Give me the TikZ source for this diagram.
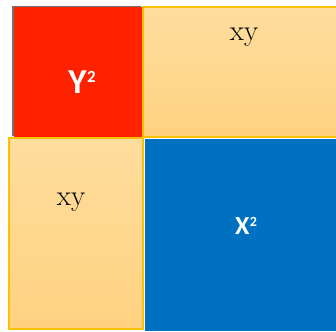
\documentclass[tikz,border=0pt]{standalone}
\usepackage{fontspec}
\newfontfamily\calib{Carlito}
\definecolor{sqred}{RGB}{255,34,0}
\definecolor{sqblue}{RGB}{0,112,192}
\definecolor{ortop}{RGB}{255,221,158}
\definecolor{orbot}{RGB}{255,210,128}
\definecolor{orline}{RGB}{255,192,0}
\newcommand{\sqsup}[1]{\raisebox{0.3em}{\fontsize{#1}{#1}\selectfont\bfseries 2}}
\begin{document}
\begin{tikzpicture}[x=1pt,y=-1pt,
  orbox/.style={draw=orline,line width=1.2pt,top color=ortop,bottom color=orbot},
  sqlabel/.style={text=white,font=\calib\bfseries},
  xylabel/.style={font=\fontsize{29}{29}\selectfont}]
\useasboundingbox (0,0) rectangle (336,331);
\fill[white] (0,0) rectangle (336,331);
% shadow of red square
\fill[black!55] (12,6) rectangle (141,136);
\fill[sqred] (14,7) rectangle (142,137);
\node[sqlabel,font=\calib\bfseries\fontsize{35}{35}\selectfont] (y2) at (82,82) {Y\kern0.5pt\sqsup{17}};
% top right
\draw[orbox] (143,7) rectangle (337,137);
\node[xylabel] (xy1) at (244,37) {xy};
% bottom left
\draw[orbox] (9,138) rectangle (143,329);
\node[xylabel] (xy2) at (71,202) {xy};
% blue
\fill[sqblue] (145,139) rectangle (336,331);
\node[sqlabel,font=\calib\bfseries\fontsize{26}{26}\selectfont] (x2) at (246,226) {X\kern0.5pt\sqsup{14}};
\end{tikzpicture}
\end{document}
